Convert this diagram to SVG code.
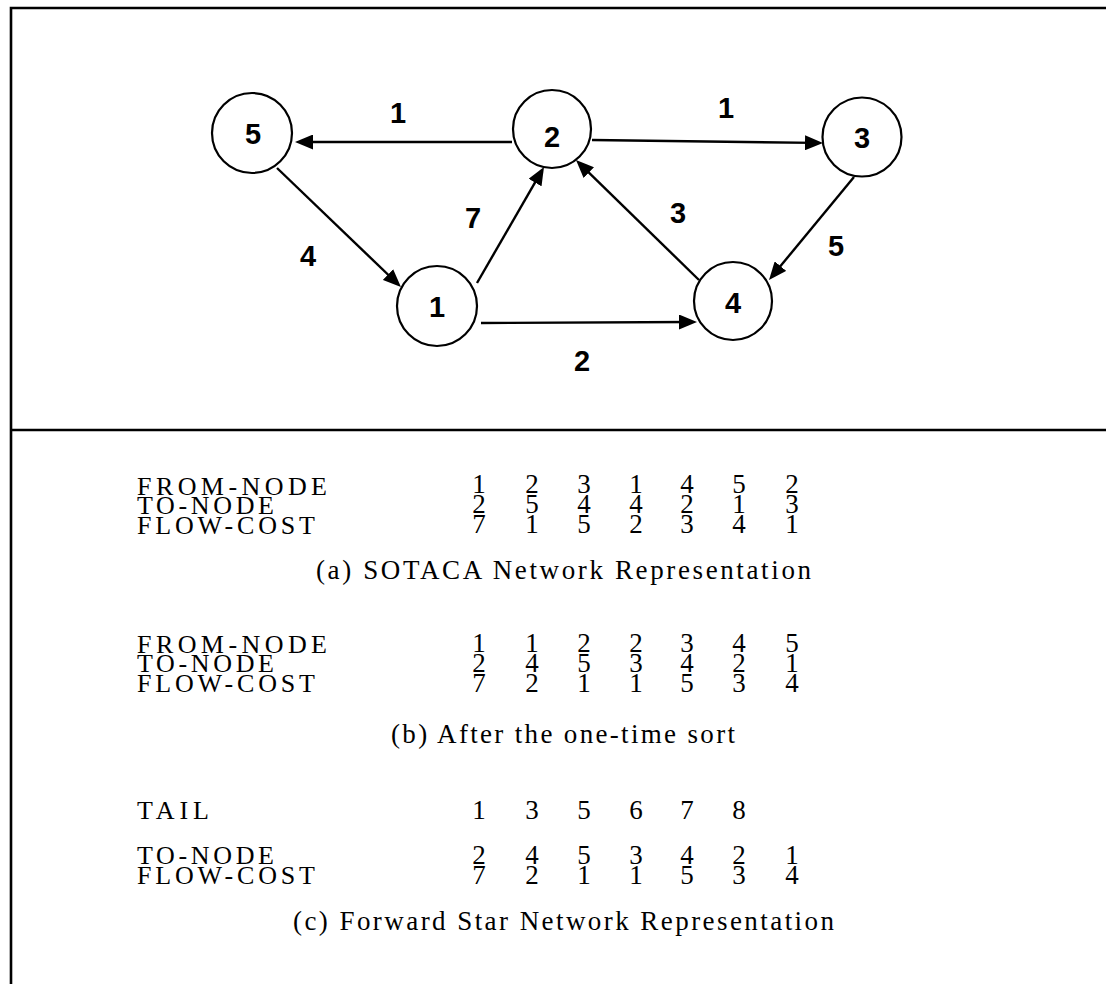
<svg xmlns="http://www.w3.org/2000/svg" width="1106" height="984" viewBox="0 0 1106 984">
  <style>
    .frame { stroke: #000; stroke-width: 2.6; fill: none; }
    .node circle { fill: #fff; stroke: #000; stroke-width: 2.2; }
    .node text { font-family: "Liberation Sans", Arial, sans-serif; font-weight: bold; font-size: 29px; text-anchor: middle; fill: #000; }
    .edge { stroke: #000; stroke-width: 2.4; fill: none; marker-end: url(#arrow); }
    .elabel { font-family: "Liberation Sans", Arial, sans-serif; font-weight: bold; font-size: 29px; text-anchor: middle; fill: #000; }
    .tbl { font-family: "Liberation Serif", "Times New Roman", serif; font-size: 26px; fill: #000; }
    .cap { font-family: "Liberation Serif", "Times New Roman", serif; font-size: 27px; fill: #000; }
    .num { font-family: "Liberation Serif", "Times New Roman", serif; font-size: 27px; fill: #000; text-anchor: middle; }
  </style>
  <defs>
    <marker id="arrow" markerUnits="userSpaceOnUse" markerWidth="18" markerHeight="15" refX="10" refY="7.5" orient="auto">
      <path d="M0,0 L18,7.5 L0,15 Z" fill="#000"/>
    </marker>
  </defs>

  <rect width="1106" height="984" fill="#fff"/>

  <!-- outer frame (open on the right and bottom) and section divider -->
  <g id="frame">
    <path class="frame" d="M1106,8 L11,8 L11,984"/>
    <line class="frame" x1="11" y1="430" x2="1106" y2="430"/>
  </g>

  <!-- arcs of the network -->
  <g id="connectors">
    <line class="edge" x1="512" y1="142" x2="303" y2="142"/>
    <line class="edge" x1="592" y1="140" x2="815" y2="142.9"/>
    <line class="edge" x1="277" y1="168" x2="395.2" y2="281.5"/>
    <line class="edge" x1="477" y1="283" x2="540" y2="173.9"/>
    <line class="edge" x1="699" y1="280" x2="581.7" y2="165.6"/>
    <line class="edge" x1="854" y1="177" x2="774.1" y2="273.8"/>
    <line class="edge" x1="481" y1="323" x2="689" y2="322"/>
  </g>

  <!-- arc costs -->
  <g id="edge-labels">
    <text class="elabel" x="398" y="123">1</text>
    <text class="elabel" x="726" y="118">1</text>
    <text class="elabel" x="473" y="228">7</text>
    <text class="elabel" x="678" y="223">3</text>
    <text class="elabel" x="308" y="266">4</text>
    <text class="elabel" x="836" y="256">5</text>
    <text class="elabel" x="582" y="371">2</text>
  </g>

  <!-- nodes -->
  <g id="node-5" class="node"><circle cx="252" cy="133" r="40"/><text x="253" y="144">5</text></g>
  <g id="node-2" class="node"><circle cx="552" cy="129" r="39"/><text x="552" y="147">2</text></g>
  <g id="node-3" class="node"><circle cx="862" cy="137" r="39.5"/><text x="862" y="148">3</text></g>
  <g id="node-1" class="node"><circle cx="437" cy="306" r="40"/><text x="437" y="317">1</text></g>
  <g id="node-4" class="node"><circle cx="733" cy="301" r="39"/><text x="733" y="313">4</text></g>

  <!-- (a) SOTACA arrays -->
  <g id="table-a">
    <text class="tbl" x="137" y="495" textLength="190" lengthAdjust="spacing">FROM-NODE</text>
    <text class="tbl" x="137" y="514" textLength="137" lengthAdjust="spacing">TO-NODE</text>
    <text class="tbl" x="137" y="534" textLength="178" lengthAdjust="spacing">FLOW-COST</text>
    <g class="num">
      <text x="479" y="493">1</text><text x="532" y="493">2</text><text x="584" y="493">3</text><text x="636" y="493">1</text><text x="687" y="493">4</text><text x="739" y="493">5</text><text x="792" y="493">2</text>
      <text x="479" y="513">2</text><text x="532" y="513">5</text><text x="584" y="513">4</text><text x="636" y="513">4</text><text x="687" y="513">2</text><text x="739" y="513">1</text><text x="792" y="513">3</text>
      <text x="479" y="533">7</text><text x="532" y="533">1</text><text x="584" y="533">5</text><text x="636" y="533">2</text><text x="687" y="533">3</text><text x="739" y="533">4</text><text x="792" y="533">1</text>
    </g>
    <text class="cap" x="316" y="579" textLength="495" lengthAdjust="spacing">(a) SOTACA Network Representation</text>
  </g>

  <!-- (b) arrays after sorting -->
  <g id="table-b">
    <text class="tbl" x="137" y="653" textLength="190" lengthAdjust="spacing">FROM-NODE</text>
    <text class="tbl" x="137" y="672" textLength="137" lengthAdjust="spacing">TO-NODE</text>
    <text class="tbl" x="137" y="692" textLength="178" lengthAdjust="spacing">FLOW-COST</text>
    <g class="num">
      <text x="479" y="652">1</text><text x="532" y="652">1</text><text x="584" y="652">2</text><text x="636" y="652">2</text><text x="687" y="652">3</text><text x="739" y="652">4</text><text x="792" y="652">5</text>
      <text x="479" y="672">2</text><text x="532" y="672">4</text><text x="584" y="672">5</text><text x="636" y="672">3</text><text x="687" y="672">4</text><text x="739" y="672">2</text><text x="792" y="672">1</text>
      <text x="479" y="692">7</text><text x="532" y="692">2</text><text x="584" y="692">1</text><text x="636" y="692">1</text><text x="687" y="692">5</text><text x="739" y="692">3</text><text x="792" y="692">4</text>
    </g>
    <text class="cap" x="391" y="743" textLength="344" lengthAdjust="spacing">(b) After the one-time sort</text>
  </g>

  <!-- (c) forward star arrays -->
  <g id="table-c">
    <text class="tbl" x="137" y="819" textLength="72" lengthAdjust="spacing">TAIL</text>
    <g class="num">
      <text x="479" y="819">1</text><text x="532" y="819">3</text><text x="584" y="819">5</text><text x="636" y="819">6</text><text x="687" y="819">7</text><text x="739" y="819">8</text>
      <text x="479" y="864">2</text><text x="532" y="864">4</text><text x="584" y="864">5</text><text x="636" y="864">3</text><text x="687" y="864">4</text><text x="739" y="864">2</text><text x="792" y="864">1</text>
      <text x="479" y="884">7</text><text x="532" y="884">2</text><text x="584" y="884">1</text><text x="636" y="884">1</text><text x="687" y="884">5</text><text x="739" y="884">3</text><text x="792" y="884">4</text>
    </g>
    <text class="tbl" x="137" y="864" textLength="137" lengthAdjust="spacing">TO-NODE</text>
    <text class="tbl" x="137" y="884" textLength="178" lengthAdjust="spacing">FLOW-COST</text>
    <text class="cap" x="293" y="930" textLength="541" lengthAdjust="spacing">(c) Forward Star Network Representation</text>
  </g>
</svg>
